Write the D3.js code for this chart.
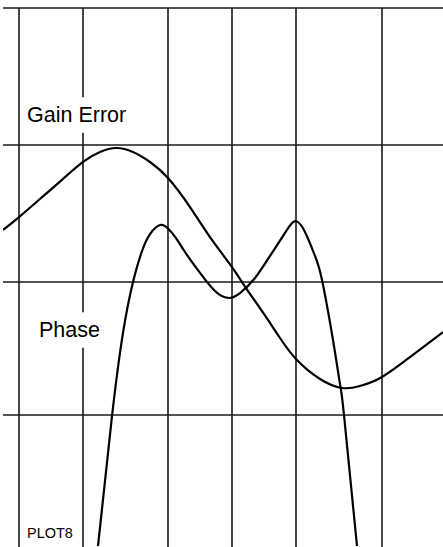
<!DOCTYPE html>
<html lang="en">
<head>
    <meta charset="UTF-8">
    <title>PLOT8</title>
    <script src="https://cdn.jsdelivr.net/npm/d3@7"></script>
    <style>
        *{
            padding: 0;
            margin: 0;
        }
        body{
            background: #fff;
        }
        svg{
            display: block;
        }
    </style>
</head>
<body>
    <script>
        // grid positions, in chart units
        let xGrid = [0.4, 2, 4.125, 5.725, 7.325, 9.475];
        let yGrid = [2, 1, 0, -1];

        // Gain Error curve
        let gainX = [0, 0.4, 0.925, 1.425, 2.0, 2.425, 2.825, 3.25, 3.675, 4.125, 4.675, 5.175,
            5.725, 6.025, 6.35, 6.675, 6.925, 7.325, 7.925, 8.475, 8.925, 9.475, 10.175, 11];
        let gainY = [0.38, 0.474, 0.606, 0.733, 0.876, 0.949, 0.978, 0.949, 0.876, 0.759, 0.547, 0.328,
            0.109, -0.023, -0.165, -0.308, -0.421, -0.579, -0.729, -0.797, -0.782, -0.714, -0.564, -0.376];

        // Phase curve
        let phaseX = [2.375, 2.725, 3.0, 3.25, 3.475, 3.675, 3.925, 4.125, 4.325, 4.55, 4.925, 5.3,
            5.625, 5.925, 6.3, 6.675, 7.05, 7.3, 7.55, 7.8, 7.975, 8.25, 8.425, 8.525, 8.85];
        let phaseY = [-1.985, -1.008, -0.383, 0, 0.226, 0.35, 0.416, 0.391, 0.321, 0.219, 0.066, -0.068,
            -0.12, -0.083, 0.029, 0.19, 0.358, 0.445, 0.365, 0.19, 0.015, -0.436, -0.767, -1.0, -1.985];

        let labels = [
            {text: "Gain Error", x: 27, y: 122, size: 21.5},
            {text: "Phase", x: 39, y: 337, size: 21.5},
            {text: "PLOT8", x: 27, y: 538, size: 14.5}
        ];

        let W = 443, H = 547;
        let svg = d3.select("body")
            .append("svg")
            .attr("width", W)
            .attr("height", H);

        let x = d3.scaleLinear().domain([0, 11]).range([3, 443]);
        // grid rows are not evenly spaced on the scan
        let y = d3.scaleLinear().domain([-1, 0, 1, 2]).range([415, 282, 145, 8]);

        svg.append("defs").append("clipPath").attr("id", "plot")
            .append("rect").attr("x", 3).attr("y", 8).attr("width", 440).attr("height", H - 8);

        // horizontal grid
        svg.selectAll(".hline").data(yGrid).enter().append("line")
            .attr("class", "hline")
            .attr("x1", x(0)).attr("x2", x(11))
            .attr("y1", d => y(d)).attr("y2", d => y(d))
            .attr("stroke", "#1a1a1a")
            .attr("stroke-width", 1.6);

        // vertical grid
        svg.selectAll(".vline").data(xGrid).enter().append("line")
            .attr("class", "vline")
            .attr("x1", d => x(d)).attr("x2", d => x(d))
            .attr("y1", y(2)).attr("y2", H)
            .attr("stroke", "#1a1a1a")
            .attr("stroke-width", 1.6);

        let line = d3.line()
            .x(d => x(d[0]))
            .y(d => y(d[1]))
            .curve(d3.curveNatural);

        let g = svg.append("g").attr("clip-path", "url(#plot)");
        g.append("path")
            .datum(d3.zip(gainX, gainY))
            .attr("d", line)
            .attr("fill", "none")
            .attr("stroke", "#000")
            .attr("stroke-width", 2.2);
        g.append("path")
            .datum(d3.zip(phaseX, phaseY))
            .attr("d", line)
            .attr("fill", "none")
            .attr("stroke", "#000")
            .attr("stroke-width", 2.2);

        // labels sit on white boxes that break the grid
        labels.forEach(function (l) {
            let t = svg.append("text")
                .attr("x", l.x)
                .attr("y", l.y)
                .attr("font-family", "Liberation Sans, Arial, sans-serif")
                .attr("font-size", l.size)
                .attr("fill", "#000")
                .text(l.text);
            let b = t.node().getBBox();
            svg.insert("rect", "text")
                .attr("x", b.x - 3)
                .attr("y", l.y - l.size * 1.15)
                .attr("width", b.width + 6)
                .attr("height", l.size * 1.65)
                .attr("fill", "#fff");
        });
    </script>
</body>
</html>
